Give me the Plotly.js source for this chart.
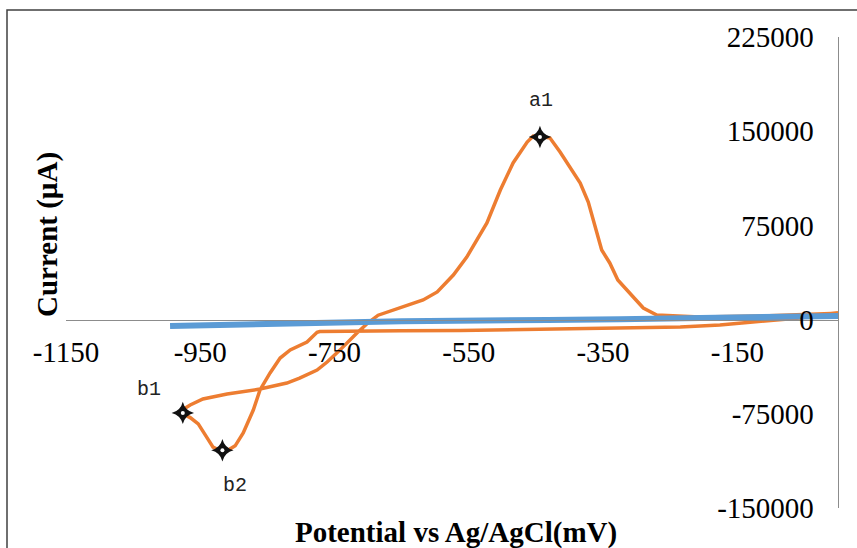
<!DOCTYPE html>
<html>
<head>
<meta charset="utf-8">
<script src="https://cdn.plot.ly/plotly-3.0.1.min.js"></script>
<style>html,body{margin:0;padding:0;background:#fff;}#chart{width:857px;height:548px;}</style>
</head>
<body>
<div id="chart"></div>
<script>
// ---- data ----
var cvPotential = [0, -16, -57, -136, -176, -235, -355, -474, -563, -652, -700, -740, -772, -776,
  -791, -816, -831, -846, -861, -871, -886, -898, -910, -918, -931, -940, -953, -965, -978,
  -980, -965, -946, -910, -861, -821, -802, -776, -761, -742, -717, -700, -685, -663, -618,
  -597, -573, -553, -523, -503, -484, -463, -454, -444, -429, -414, -399, -384, -372, -362,
  -352, -340, -328, -305, -290, -270, -206, -116, -42, 0];
var cvCurrent = [5000, 4400, 1300, -2700, -4300, -5900, -7100, -8000, -8600, -8800, -9000, -9200, -9500, -10100,
  -17800, -24200, -30600, -42500, -56000, -72000, -90300, -100500, -104500, -105000, -101500, -94000, -83000, -78000, -74500,
  -73000, -68000, -63200, -59200, -55300, -50500, -46600, -40200, -33800, -24300, -10800, -2500, 3500, 7500, 15600,
  22000, 35500, 49800, 76900, 103200, 124700, 141400, 146200, 146000, 144600, 133400, 121500, 108700, 93600, 73700,
  55400, 45100, 31500, 18000, 9200, 3700, 2000, 2900, 4500, 5000];

var basePotential = [-995, -650, -325, 0];
var baseCurrent = [-5100, -1300, 300, 2870];

var peakNames = ["a1", "b1", "b2"];
var peakPotential = [-444, -976, -917];
var peakCurrent = [145400, -74300, -104000];
var peakLabelPotential = [-442, -1026, -898];
var peakLabelCurrent = [174800, -55300, -131700];

var xTickVals = [-1150, -950, -750, -550, -350, -150];
var yTickVals = [-150000, -75000, 0, 75000, 150000, 225000];
var xTitle = "Potential vs Ag/AgCl(mV)";
var yTitle = "Current (µA)";

// ---- layout helpers (pixel -> paper) ----
var W = 857, H = 548, mL = 66, mR = 19, mT = 37, mB = 40;
var pw = W - mL - mR, ph = H - mT - mB;
function px(x) { return (x - mL) / pw; }
function py(y) { return (H - mB - y) / ph; }

var traces = [
  { x: cvPotential, y: cvCurrent, type: "scatter", mode: "lines",
    line: { color: "#ED7D31", width: 3.5 }, hoverinfo: "skip" },
  { x: basePotential, y: baseCurrent, type: "scatter", mode: "lines",
    line: { color: "#5B9BD5", width: 6, shape: "spline" }, hoverinfo: "skip" },
  { x: peakPotential, y: peakCurrent, type: "scatter", mode: "markers",
    marker: { symbol: "star-diamond", size: 16, color: "#111" }, hoverinfo: "skip" },
  { x: peakPotential, y: peakCurrent, type: "scatter", mode: "markers",
    marker: { symbol: "circle", size: 4, color: "#fff" }, hoverinfo: "skip" }
];

var annotations = peakNames.map(function (n, i) {
  return { x: peakLabelPotential[i], y: peakLabelCurrent[i], xref: "x", yref: "y",
    text: n, showarrow: false, font: { family: "Liberation Mono", size: 20, color: "#222" } };
});
annotations.push({ x: px(456), y: py(532), xref: "paper", yref: "paper", text: "<b>" + xTitle + "</b>",
  showarrow: false, xanchor: "center", yanchor: "middle",
  font: { family: "Liberation Serif", size: 29, color: "#000" } });
annotations.push({ x: px(47), y: py(235), xref: "paper", yref: "paper", text: "<b>" + yTitle + "</b>",
  showarrow: false, textangle: -90, xanchor: "center", yanchor: "middle",
  font: { family: "Liberation Serif", size: 29, color: "#000" } });

var layout = {
  width: W, height: H,
  margin: { l: mL, r: mR, t: mT, b: mB, pad: 0 },
  paper_bgcolor: "#fff", plot_bgcolor: "#fff",
  showlegend: false,
  xaxis: {
    range: [-1150, 0], anchor: "free", position: 0.4,
    tickmode: "array", tickvals: xTickVals, ticktext: xTickVals.map(String),
    ticklabelstandoff: 7,
    showline: true, linecolor: "#8C8C8C", linewidth: 1,
    showgrid: false, zeroline: false, ticks: "",
    tickfont: { family: "Liberation Serif", size: 29, color: "#000" }
  },
  yaxis: {
    range: [-150000, 225000], side: "right",
    tickmode: "array", tickvals: yTickVals, ticktext: yTickVals.map(String),
    ticklabelposition: "inside", ticklabeloverflow: "allow", ticklabelstandoff: 27,
    showline: true, linecolor: "#8C8C8C", linewidth: 1,
    showgrid: false, zeroline: false, ticks: "",
    tickfont: { family: "Liberation Serif", size: 29, color: "#000" }
  },
  shapes: [
    { type: "rect", xref: "paper", yref: "paper", x0: px(7), x1: px(880), y0: py(580), y1: py(10),
      line: { color: "#404040", width: 1.5 }, fillcolor: "rgba(0,0,0,0)", layer: "above" }
  ],
  annotations: annotations
};

Plotly.newPlot("chart", traces, layout, { displayModeBar: false, staticPlot: true });
</script>
</body>
</html>
